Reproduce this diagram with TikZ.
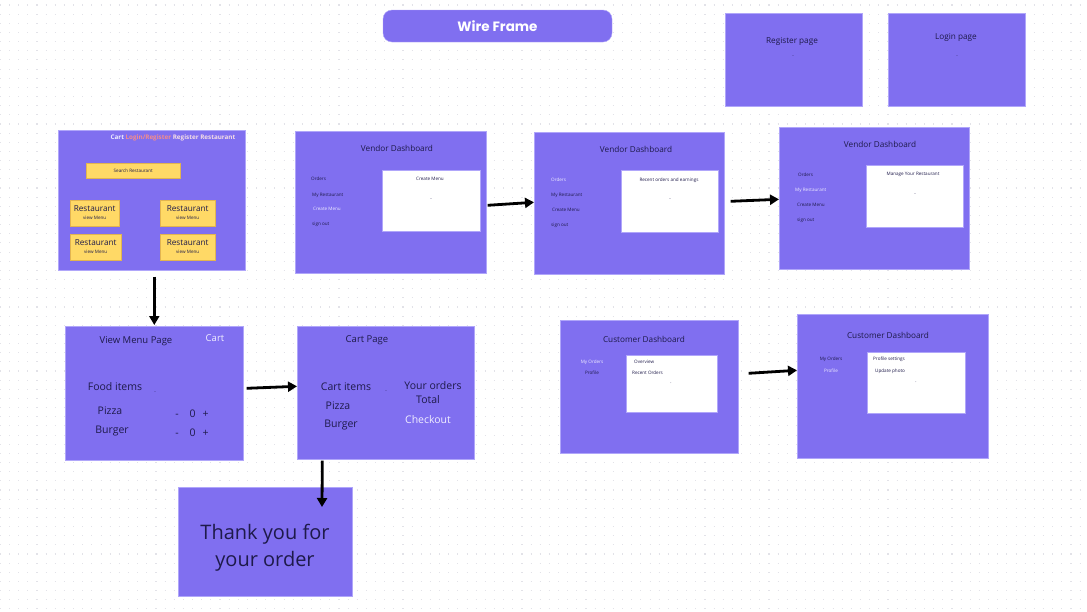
\documentclass[tikz,border=0pt]{standalone}
\usepackage{fontspec}
\setmainfont{Open Sans}
\newfontfamily\headfont{Poppins}
\usetikzlibrary{arrows.meta, calc}

\definecolor{pagefill}{RGB}{128,111,240}
\definecolor{pageline}{RGB}{176,166,250}
\definecolor{ink}{RGB}{30,26,74}
\definecolor{light}{RGB}{240,238,255}
\definecolor{salmon}{RGB}{244,140,140}
\definecolor{blush}{RGB}{246,222,230}
\definecolor{cardfill}{RGB}{255,217,102}
\definecolor{cardline}{RGB}{226,180,80}
\definecolor{griddot}{RGB}{226,226,232}

\begin{document}
\begin{tikzpicture}[x=1pt,y=-1pt,
    page/.style={draw=pageline, fill=pagefill, line width=0.6pt, anchor=north west, inner sep=0pt},
    panel/.style={draw=pageline, fill=white, line width=0.6pt, anchor=north west, inner sep=0pt},
    card/.style={draw=cardline, fill=cardfill, line width=0.4pt, anchor=north west, inner sep=0pt},
    head/.style={text=ink, font=\fontsize{8.2}{9}\selectfont, inner sep=0pt},
    big/.style={text=ink, font=\fontsize{10.5}{12}\selectfont, inner sep=0pt},
    tag/.style={text=ink, font=\fontsize{4.6}{5.5}\selectfont, inner sep=0pt},
    on/.style={text=light},
    flow/.style={line width=2.8pt, -{Triangle[length=9pt,width=10pt]}}]

    % canvas and dotted grid
    \useasboundingbox (0,0) rectangle (1087,611);
    \fill[white] (0,0) rectangle (1087,611);
    \foreach \y in {5,14.15,...,611}
      \draw[griddot, line width=1.1pt, dash pattern=on 1.1pt off 8.05pt, dash phase=-9pt] (0,\y) -- (1087,\y);

    % title banner
    \node[fill=pagefill, draw=pageline, rounded corners=9pt, minimum width=229pt, minimum height=32pt,
          text=white, font=\headfont\bfseries\fontsize{13.5}{15}\selectfont] (title) at (497.5,26) {Wire Frame};

    % register and login pages
    \node[page, minimum width=137pt, minimum height=93pt] (register) at (725,13) {};
    \node[head] (register-t) at (792,41) {Register page};
    \node[tag] (register-d) at (793,57) {-};
    \node[page, minimum width=137pt, minimum height=93pt] (login) at (888,13) {};
    \node[head] (login-t) at (956,37) {Login page};
    \node[tag] (login-d) at (957,57) {-};

    % home page
    \node[page, minimum width=187pt, minimum height=140pt] (home) at (58,130) {};
    \node[inner sep=0pt, font=\bfseries\fontsize{6.3}{7}\selectfont] (home-nav) at (173,138)
      {\textcolor{light}{Cart} \textcolor{salmon}{Login/Register} \textcolor{blush}{Register Restaurant}};
    \node[card, minimum width=94pt, minimum height=15pt] (search) at (86,163) {};
    \node[tag] (search-t) at (search) {Search Restaurant};
    \node[card, minimum width=49pt, minimum height=26pt] (shopA) at (70,200) {};
    \node[card, minimum width=55pt, minimum height=26pt] (shopB) at (160,200) {};
    \node[card, minimum width=51pt, minimum height=26pt] (shopC) at (70,234) {};
    \node[card, minimum width=55pt, minimum height=26pt] (shopD) at (160,234) {};
    \foreach \s in {shopA,shopB,shopC,shopD} {
      \node[head] (\s-t) at ([yshift=5]\s.center) {Restaurant};
      \node[tag] (\s-m) at ([yshift=-5]\s.center) {view Menu};
    }

    % vendor dashboards
    \node[page, minimum width=191pt, minimum height=142pt] (vendorA) at (295,131) {};
    \node[head] (vendorA-t) at (397,148) {Vendor Dashboard};
    \node[tag, anchor=west] (vendorA-1) at (311,179) {Orders};
    \node[tag, anchor=west] (vendorA-2) at (312,195) {My Restaurant};
    \node[tag, anchor=west, on] (vendorA-3) at (313,209) {Create Menu};
    \node[tag, anchor=west] (vendorA-4) at (312,224) {sign out};
    \node[panel, minimum width=98pt, minimum height=61pt] (vendorA-p) at (382,170) {};
    \node[tag] (vendorA-p1) at (430,179) {Create Menu};
    \node[tag] (vendorA-p2) at (431,200) {-};

    \node[page, minimum width=190pt, minimum height=142pt] (vendorB) at (534,132) {};
    \node[head] (vendorB-t) at (636,149) {Vendor Dashboard};
    \node[tag, anchor=west, on] (vendorB-1) at (551,180) {Orders};
    \node[tag, anchor=west] (vendorB-2) at (551,195) {My Restaurant};
    \node[tag, anchor=west] (vendorB-3) at (552,210) {Create Menu};
    \node[tag, anchor=west] (vendorB-4) at (551,225) {sign out};
    \node[panel, minimum width=97pt, minimum height=62pt] (vendorB-p) at (621,170) {};
    \node[tag] (vendorB-p1) at (669,180) {Recent orders and earnings};
    \node[tag] (vendorB-p2) at (670,200) {-};

    \node[page, minimum width=190pt, minimum height=142pt] (vendorC) at (779,127) {};
    \node[head] (vendorC-t) at (880,144) {Vendor Dashboard};
    \node[tag, anchor=west] (vendorC-1) at (798,175) {Orders};
    \node[tag, anchor=west, on] (vendorC-2) at (795,190) {My Restaurant};
    \node[tag, anchor=west] (vendorC-3) at (797,205) {Create Menu};
    \node[tag, anchor=west] (vendorC-4) at (797,220) {sign out};
    \node[panel, minimum width=97pt, minimum height=62pt] (vendorC-p) at (866,165) {};
    \node[tag] (vendorC-p1) at (913,174) {Manage Your Restaurant};
    \node[tag] (vendorC-p2) at (915,195) {-};

    % view menu page
    \node[page, minimum width=178pt, minimum height=134pt] (menu) at (65,326) {};
    \node[big, font=\fontsize{9.5}{11}\selectfont] (menu-t) at (136,341) {View Menu Page};
    \node[big, on, font=\fontsize{9.5}{11}\selectfont] (menu-c) at (215,338) {Cart};
    \node[big] (menu-f) at (115,387) {Food items};
    \node[tag] (menu-d) at (155,393) {-};
    \node[big] (menu-p) at (110,411) {Pizza};
    \node[big] (menu-b) at (112,431) {Burger};
    \node[big] (menu-pq) at (192,414) {-\hspace{11pt}0\hspace{7pt}+};
    \node[big] (menu-bq) at (192,433) {-\hspace{11pt}0\hspace{7pt}+};

    % cart page
    \node[page, minimum width=177pt, minimum height=133pt] (cart) at (297,326) {};
    \node[big, font=\fontsize{9.5}{11}\selectfont] (cart-t) at (367,340) {Cart Page};
    \node[big] (cart-i) at (346,387) {Cart items};
    \node[tag] (cart-d) at (386,392) {-};
    \node[big] (cart-p) at (338,406) {Pizza};
    \node[big] (cart-b) at (341,425) {Burger};
    \node[big] (cart-o) at (433,386) {Your orders};
    \node[big] (cart-s) at (428,400) {Total};
    \node[big, on] (cart-k) at (428,420) {Checkout};

    % thank you page
    \node[page, minimum width=174pt, minimum height=109pt] (thanks) at (178,487) {};
    \node[text=ink, align=center, font=\fontsize{20}{27}\selectfont, inner sep=0pt] (thanks-t) at (265,548)
      {Thank you for\\your order};

    % customer dashboards
    \node[page, minimum width=178pt, minimum height=133pt] (custA) at (560,320) {};
    \node[head] (custA-t) at (644,339) {Customer Dashboard};
    \node[tag, on] (custA-1) at (592,362) {My Orders};
    \node[tag] (custA-2) at (592,373) {Profile};
    \node[panel, minimum width=91pt, minimum height=57pt] (custA-p) at (626,355) {};
    \node[tag, anchor=west] (custA-p1) at (634,362) {Overview};
    \node[tag, anchor=west] (custA-p2) at (632,373) {Recent Orders};
    \node[tag] (custA-p3) at (671,383) {.};

    \node[page, minimum width=191pt, minimum height=144pt] (custB) at (797,314) {};
    \node[head] (custB-t) at (888,335) {Customer Dashboard};
    \node[tag] (custB-1) at (831,359) {My Orders};
    \node[tag, on] (custB-2) at (831,371) {Profile};
    \node[panel, minimum width=98pt, minimum height=61pt] (custB-p) at (867,352) {};
    \node[tag, anchor=west] (custB-p1) at (873,359) {Profile settings};
    \node[tag, anchor=west] (custB-p2) at (875,371) {Update photo};
    \node[tag] (custB-p3) at (916,382) {.};

    % flow arrows
    \coordinate (thanks-in) at (322,507);
    \draw[flow] ($(vendorA.east)+(1,3)$) -- ($(vendorB.west)+(0,-1)$);
    \draw[flow] ($(vendorB.east)+(6,-2)$) -- ($(vendorC.west)+(0,1)$);
    \draw[flow] ($(home.south -| menu.north)+(0,6)$) -- ($(menu.north)+(0,-1)$);
    \draw[flow] ($(menu.east)+(3,-5)$) -- ($(cart.west)+(0,-6.5)$);
    \draw[flow] ($(cart.south)+(-63.5,1)$) -- (thanks-in);
    \draw[flow] ($(custA.east)+(10,-13.5)$) -- ($(custB.west)+(0,-16)$);

\end{tikzpicture}
\end{document}
